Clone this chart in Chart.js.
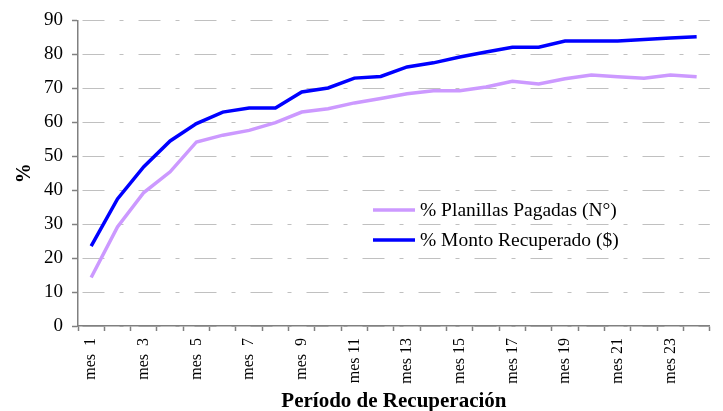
<!DOCTYPE html>
<html lang="es">
<head>
    <meta charset="UTF-8">
    <title>Periodo de Recuperacion</title>
    <style>
        body { margin: 0; background: #fff; }
        #wrap { width: 723px; height: 411px; }
    </style>
</head>
<body>
    <div id="wrap">
        <canvas id="myChart" width="723" height="411"></canvas>
    </div>

    <script src="https://cdn.jsdelivr.net/npm/chart.js@4.4.1/dist/chart.umd.min.js"></script>
    <script>
        // data
        var categories = ['mes 1', 'mes 2', 'mes 3', 'mes 4', 'mes 5', 'mes 6', 'mes 7', 'mes 8',
            'mes 9', 'mes 10', 'mes 11', 'mes 12', 'mes 13', 'mes 14', 'mes 15', 'mes 16',
            'mes 17', 'mes 18', 'mes 19', 'mes 20', 'mes 21', 'mes 22', 'mes 23', 'mes 24'];
        var planillasPagadas = [14.3, 29.2, 39.3, 45.4, 54.2, 56.2, 57.6, 59.9, 63.0, 64.0, 65.7, 67.0,
            68.4, 69.3, 69.3, 70.4, 72.1, 71.3, 72.8, 73.9, 73.4, 73.0, 73.9, 73.4];
        var montoRecuperado = [23.5, 37.4, 46.9, 54.5, 59.6, 63.0, 64.2, 64.2, 68.9, 70.1, 73.0, 73.5,
            76.3, 77.5, 79.2, 80.7, 82.1, 82.1, 83.9, 83.9, 83.9, 84.4, 84.8, 85.2];
        var yMin = 0, yMax = 90, yStep = 10;

        var serif = '"Liberation Serif", "Times New Roman", serif';
        var axisGray = '#808080';

        // legend sits inside the plot area, like the original
        var insideLegend = {
            id: 'insideLegend',
            afterDatasetsDraw: function (chart) {
                var ctx = chart.ctx;
                chart.data.datasets.forEach(function (ds, i) {
                    var y = 210 + i * 30;
                    ctx.save();
                    ctx.strokeStyle = ds.borderColor;
                    ctx.lineWidth = 3.5;
                    ctx.beginPath();
                    ctx.moveTo(373, y);
                    ctx.lineTo(415, y);
                    ctx.stroke();
                    ctx.fillStyle = '#000';
                    ctx.font = '19.5px ' + serif;
                    ctx.textBaseline = 'middle';
                    ctx.fillText(ds.label, 420, y + 1);
                    ctx.restore();
                });
            }
        };

        var ctx = document.getElementById('myChart').getContext('2d');
        var myChart = new Chart(ctx, {
            type: 'line',
            data: {
                labels: categories,
                datasets: [
                    {
                        label: '% Planillas Pagadas (N°)',
                        data: planillasPagadas,
                        borderColor: '#CC99FF',
                        borderWidth: 3.5,
                        pointRadius: 0,
                        tension: 0,
                        fill: false
                    },
                    {
                        label: '% Monto Recuperado ($)',
                        data: montoRecuperado,
                        borderColor: '#0000FF',
                        borderWidth: 3.5,
                        pointRadius: 0,
                        tension: 0,
                        fill: false
                    }
                ]
            },
            options: {
                responsive: false,
                animation: false,
                layout: { padding: { top: 20, right: 7, left: 0, bottom: 0 } },
                plugins: {
                    legend: { display: false },
                    tooltip: { enabled: false }
                },
                scales: {
                    x: {
                        offset: true,
                        grid: {
                            offset: true,
                            drawOnChartArea: false,
                            drawTicks: true,
                            tickLength: 5,
                            tickColor: axisGray,
                            tickWidth: 1.5
                        },
                        border: { color: axisGray, width: 1.5 },
                        ticks: {
                            autoSkip: false,
                            minRotation: 90,
                            maxRotation: 90,
                            padding: 7,
                            color: '#000',
                            font: { family: serif, size: 16 },
                            callback: function (v, i) {
                                if (i % 2) return '';
                                var s = this.getLabelForValue(v);
                                return i < 9 ? s.replace(' ', '  ') : s;
                            }
                        },
                        title: {
                            display: true,
                            text: 'Período de Recuperación',
                            color: '#000',
                            font: { family: serif, size: 21, weight: 'bold' },
                            padding: { top: 0, bottom: -3 }
                        },
                        afterFit: function (scale) { scale.height = 85; }
                    },
                    y: {
                        min: yMin,
                        max: yMax,
                        ticks: {
                            stepSize: yStep,
                            padding: 9,
                            color: '#000',
                            font: { family: serif, size: 19 }
                        },
                        grid: {
                            color: '#c0c0c0',
                            lineWidth: 1,
                            tickLength: 6,
                            tickColor: axisGray,
                            tickWidth: 1.5
                        },
                        border: { color: axisGray, width: 1.5, dash: [22, 15, 4, 15], dashOffset: -4 },
                        title: {
                            display: true,
                            text: '%',
                            color: '#000',
                            font: { family: serif, size: 20, weight: 'bold' },
                            padding: { top: 12.5, bottom: 0 }
                        },
                        afterFit: function (scale) { scale.width = 78; }
                    }
                }
            },
            plugins: [insideLegend]
        });
    </script>
</body>
</html>
